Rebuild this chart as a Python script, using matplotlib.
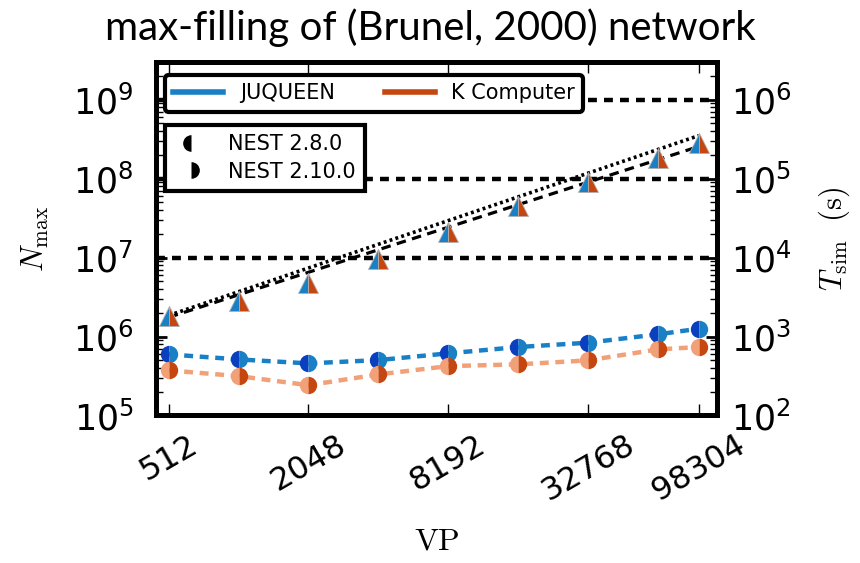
import matplotlib
matplotlib.use('Agg')
import matplotlib.pyplot as plt
import numpy as np
from matplotlib.lines import Line2D
from matplotlib.ticker import FixedLocator, FixedFormatter, LogLocator, NullFormatter

# virtual processes
vp = [512, 1024, 2048, 4096, 8192, 16384, 32768, 65536, 98304]
xtick_vals = [512, 2048, 8192, 32768, 98304]
xtick_labels = ['512', '2048', '8192', '32768', '98304']

# max number of neurons (same for both machines)
n_max = [1.8e6, 2.8e6, 4.8e6, 9.6e6, 2.1e7, 4.5e7, 9.0e7, 1.8e8, 2.8e8]

# fit lines (ideal scaling and measured trend), endpoints
fit_vp = [512, 98304]
ideal_fit = [1.85e6, 3.5e8]
trend_fit = [1.75e6, 2.55e8]

# simulation time in s
t_juqueen_28 = [594, 513, 457, 503, 612, 736, 835, 1066, 1256]
t_juqueen_210 = [594, 513, 457, 503, 612, 736, 835, 1066, 1256]
t_k_28 = [373, 315, 242, 331, 422, 444, 499, 687, 736]
t_k_210 = [373, 315, 242, 331, 422, 444, 499, 687, 736]

# memory limits drawn as horizontal lines
limits = [1e7, 1e8, 1e9]

blue = '#1a80c6'
blue_dark = '#0a3fc0'
orange = '#c5460f'
salmon = '#f2a078'

fig = plt.figure(figsize=(8.6, 5.63), dpi=100)
ax = fig.add_axes([0.181, 0.262, 0.653, 0.628])
ax2 = ax.twinx()

for lim in limits:
    ax.axhline(lim, color='black', lw=3.2, ls=(0, (2.0, 1.6)), zorder=1)

ax.plot(fit_vp, ideal_fit, color='black', lw=2.6, ls=(0, (0.8, 0.9)), zorder=2)
ax.plot(fit_vp, trend_fit, color='black', lw=2.3, ls=(0, (3, 2)), zorder=2)
ax.plot(vp, n_max, ls='none', marker='^', ms=14, fillstyle='left',
        markerfacecolor=blue, markerfacecoloralt=orange,
        markeredgecolor='#b0b0b0', markeredgewidth=0.6, zorder=3)

# simulation time on right axis
ax2.plot(vp, t_juqueen_210, color=blue, lw=3.2, ls=(0, (2, 1.5)), zorder=2)
ax2.plot(vp, t_k_210, color=salmon, lw=3.2, ls=(0, (2, 1.5)), zorder=2)
ax2.plot(vp, t_juqueen_28, ls='none', marker='o', ms=12.5, fillstyle='left',
         markerfacecolor=blue_dark, markerfacecoloralt='none', markeredgewidth=0, zorder=3)
ax2.plot(vp, t_juqueen_210, ls='none', marker='o', ms=12.5, fillstyle='right',
         markerfacecolor=blue, markerfacecoloralt='none', markeredgewidth=0, zorder=3)
ax2.plot(vp, t_k_28, ls='none', marker='o', ms=12.5, fillstyle='left',
         markerfacecolor=salmon, markerfacecoloralt='none', markeredgewidth=0, zorder=3)
ax2.plot(vp, t_k_210, ls='none', marker='o', ms=12.5, fillstyle='right',
         markerfacecolor=orange, markerfacecoloralt='none', markeredgewidth=0, zorder=3)

ax.set_xscale('log', base=2)
ax.set_yscale('log')
ax2.set_yscale('log')
ax.set_xlim(450, 118000)
ax.set_ylim(1e5, 3e9)
ax2.set_ylim(1e2, 3e6)

ax.xaxis.set_major_locator(FixedLocator(xtick_vals))
ax.xaxis.set_major_formatter(FixedFormatter(xtick_labels))
ax.xaxis.set_minor_locator(FixedLocator([]))
ax.set_yticks([1e5, 1e6, 1e7, 1e8, 1e9])
ax2.set_yticks([1e2, 1e3, 1e4, 1e5, 1e6])
for a in (ax, ax2):
    a.yaxis.set_minor_locator(LogLocator(base=10, subs=np.arange(2, 10)))
    a.yaxis.set_minor_formatter(NullFormatter())

ax.tick_params(axis='x', which='major', direction='in', length=8, width=1,
               top=True, labelsize=23, labelrotation=30, pad=10)
ax.tick_params(axis='y', which='major', direction='in', length=8, width=2,
               right=False, labelsize=25, pad=16)
ax.tick_params(axis='y', which='minor', direction='in', length=5, width=1, right=False)
ax2.tick_params(axis='y', which='major', direction='in', length=8, width=2,
                labelsize=25, pad=10)
ax2.tick_params(axis='y', which='minor', direction='in', length=5, width=1)

for a in (ax, ax2):
    for s in a.spines.values():
        s.set_linewidth(3.5)

ax.set_xlabel(r'$\mathrm{VP}$', fontsize=23, labelpad=13,
              math_fontfamily='cm')
ax.set_ylabel(r'$N_\mathrm{max}$', fontsize=22, labelpad=16, math_fontfamily='cm')
ax2.set_ylabel(r'$T_\mathrm{sim}\ \ (\mathrm{s})$', fontsize=22, labelpad=18,
               math_fontfamily='cm')

fig.suptitle('max-filling of (Brunel, 2000) network', x=0.5, y=0.985,
             fontsize=29, family='Lato')

# machine legend
mach = [Line2D([], [], color=blue, lw=4), Line2D([], [], color=orange, lw=4)]
leg1 = ax.legend(mach, ['JUQUEEN', 'K Computer'], ncol=2, loc='upper left',
                 bbox_to_anchor=(0.016, 0.963), fontsize=15, frameon=True,
                 fancybox=True, framealpha=1, edgecolor='black',
                 borderpad=0.4, columnspacing=2.4, handlelength=2.4,
                 borderaxespad=0)
leg1.get_frame().set_linewidth(3)
ax.add_artist(leg1)

# version legend
vers = [Line2D([], [], ls='none', marker='o', ms=12, fillstyle='left',
               markerfacecolor='black', markerfacecoloralt='none', markeredgewidth=0),
        Line2D([], [], ls='none', marker='o', ms=12, fillstyle='right',
               markerfacecolor='black', markerfacecoloralt='none', markeredgewidth=0)]
leg2 = ax.legend(vers, ['NEST 2.8.0', 'NEST 2.10.0'], loc='upper left',
                 bbox_to_anchor=(0.016, 0.822), fontsize=15, frameon=True,
                 fancybox=False, framealpha=1, edgecolor='black',
                 borderpad=0.45, handlelength=1.6, handletextpad=1.0,
                 borderaxespad=0, labelspacing=0.35)
leg2.get_frame().set_linewidth(3)
leg2.set_zorder(5)
leg1.set_zorder(5)

fig.savefig('out.png', dpi=100)
